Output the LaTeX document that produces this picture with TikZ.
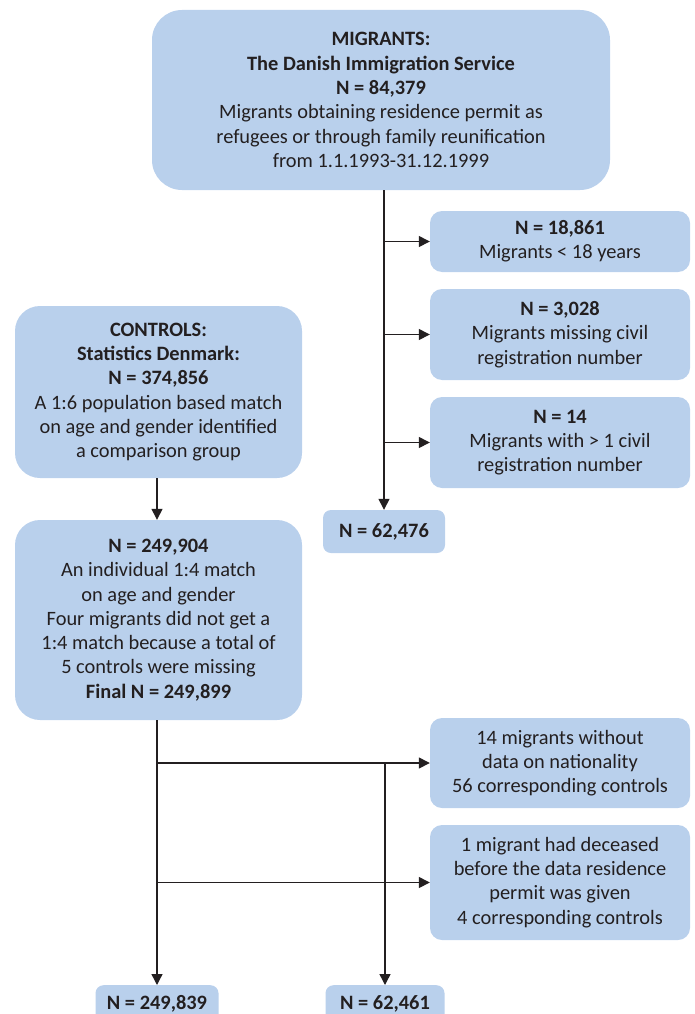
\documentclass[tikz,border=0pt]{standalone}
\usepackage{fontspec}
\setmainfont{Carlito}
\usetikzlibrary{arrows.meta}
\definecolor{boxblue}{RGB}{185,208,236}
\definecolor{ink}{RGB}{35,31,32}
\begin{document}
\begin{tikzpicture}[x=1pt,y=-1pt,
  box/.style={fill=boxblue, draw=none, align=center, text=ink, font=\fontsize{20.4}{24.3}\selectfont, inner sep=0pt},
  conn/.style={draw=ink, line width=1.4pt, -{Triangle[length=11pt,width=11pt]}}]
\useasboundingbox (0,0) rectangle (694,1014);
\node[box, rounded corners=30pt, minimum width=458pt, minimum height=180pt] (mig) at (381,100)
  {\textbf{MIGRANTS:}\\ \textbf{The Danish Immigration Service}\\ \textbf{N = 84,379}\\ Migrants obtaining residence permit as\\ refugees or through family reunification\\ from 1.1.1993-31.12.1999};
\node[box, rounded corners=12pt, minimum width=260pt, minimum height=61pt] (e1) at (560,241.5)
  {\textbf{N = 18,861}\\ Migrants < 18 years};
\node[box, rounded corners=12pt, minimum width=260pt, minimum height=91pt] (e2) at (560,334.5)
  {\textbf{N = 3,028}\\ Migrants missing civil\\ registration number};
\node[box, rounded corners=12pt, minimum width=260pt, minimum height=91pt] (e3) at (560,442.5)
  {\textbf{N = 14}\\ Migrants with > 1 civil\\ registration number};
\node[box, rounded corners=8pt, minimum width=122pt, minimum height=43pt] (n1) at (384,531.5)
  {\textbf{N = 62,476}};
\node[box, rounded corners=25pt, minimum width=287pt, minimum height=172pt] (ctrl) at (158.5,392)
  {\textbf{CONTROLS:}\\ \textbf{Statistics Denmark:}\\ \textbf{N = 374,856}\\ A 1:6 population based match\\ on age and gender identified\\ a comparison group};
\node[box, rounded corners=25pt, minimum width=287pt, minimum height=200pt] (m4) at (158.5,620)
  {\textbf{N = 249,904}\\ An individual 1:4 match\\ on age and gender\\ Four migrants did not get a\\ 1:4 match because a total of\\ 5 controls were missing\\ \textbf{Final N = 249,899}};
\node[box, rounded corners=12pt, minimum width=260pt, minimum height=90pt] (e4) at (560,763)
  {14 migrants without\\ data on nationality\\ 56 corresponding controls};
\node[box, rounded corners=12pt, minimum width=260pt, minimum height=115pt] (e5) at (560,882.5)
  {1 migrant had deceased\\ before the data residence\\ permit was given\\ 4 corresponding controls};
\node[box, rounded corners=8pt, minimum width=123pt, minimum height=50pt, anchor=north] (fc) at (157,985)
  {\raisebox{16pt}{\textbf{N = 249,839}}};
\node[box, rounded corners=8pt, minimum width=119pt, minimum height=50pt, anchor=north] (fm) at (385,985)
  {\raisebox{16pt}{\textbf{N = 62,461}}};
\draw[conn] (n1.north |- mig.south) -- (n1.north);
\draw[conn] (e1.west -| n1.north) -- (e1.west);
\draw[conn] (e2.west -| n1.north) -- (e2.west);
\draw[conn] (e3.west -| n1.north) -- (e3.west);
\draw[conn] (ctrl.south -| fc.north) -- (m4.north -| fc.north);
\draw[conn] (m4.south -| fc.north) -- (fc.north);
\draw[conn] (e4.west -| fc.north) -- (e4.west);
\draw[conn] (e5.west -| fc.north) -- (e5.west);
\draw[conn] (e4.west -| fm.north) -- (fm.north);
\end{tikzpicture}
\end{document}
